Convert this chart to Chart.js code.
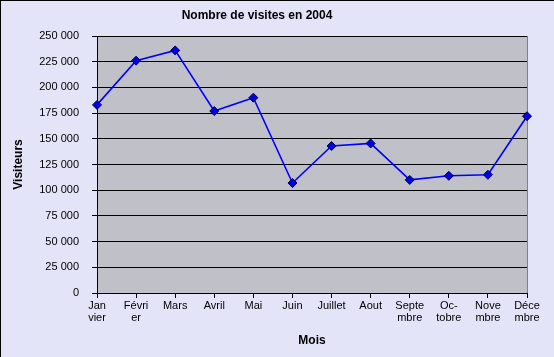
<!DOCTYPE html>
<html>
<head>
<meta charset="utf-8">
<script src="https://cdn.jsdelivr.net/npm/chart.js@4.4.1/dist/chart.umd.min.js"></script>
<style>
  html, body { margin: 0; padding: 0; background: #ffffff; }
  #wrap { position: relative; width: 554px; height: 357px; }
</style>
</head>
<body>
<div id="wrap"><canvas id="c" width="554" height="357"></canvas></div>
<script>
const chartTitle = 'Nombre de visites en 2004';
const xTitle = 'Mois';
const yTitle = 'Visiteurs';
const categories = [['Jan','vier'], ['Févri','er'], 'Mars', 'Avril', 'Mai', 'Juin', 'Juillet', 'Aout', ['Septe','mbre'], ['Oc-','tobre'], ['Nove','mbre'], ['Déce','mbre']];
const visites = [183000, 226000, 236000, 177000, 190000, 107000, 143000, 145500, 110000, 114000, 115000, 172000];
const yMin = 0;
const yMax = 250000;
const yStep = 25000;

const FONT = '"Liberation Sans", Arial, sans-serif';

const bgPlugin = {
  id: 'bg',
  beforeDraw(chart) {
    const ctx = chart.ctx;
    const a = chart.chartArea;
    ctx.save();
    ctx.fillStyle = 'rgb(228,228,248)';
    ctx.fillRect(0, 0, chart.width, chart.height);
    ctx.fillStyle = '#000';
    ctx.fillRect(0, 0, chart.width, 1);
    ctx.fillRect(0, 0, 1, chart.height);
    ctx.fillStyle = 'rgb(192,192,200)';
    ctx.fillRect(a.left, a.top, a.right - a.left, a.bottom - a.top);
    ctx.restore();
  },
  beforeDatasetsDraw(chart) {
    const ctx = chart.ctx;
    const a = chart.chartArea;
    ctx.save();
    ctx.strokeStyle = '#808080';
    ctx.lineWidth = 1;
    ctx.beginPath();
    ctx.moveTo(Math.round(a.right) + 0.5, a.top);
    ctx.lineTo(Math.round(a.right) + 0.5, a.bottom);
    ctx.stroke();
    ctx.restore();
  },
  afterDraw(chart) {
    const ctx = chart.ctx;
    ctx.save();
    ctx.fillStyle = '#000';
    ctx.font = 'bold 12px ' + FONT;
    ctx.textAlign = 'center';
    ctx.textBaseline = 'middle';
    ctx.fillText(chartTitle, 257, 16);
    ctx.restore();
  }
};

new Chart(document.getElementById('c'), {
  type: 'line',
  data: {
    labels: categories,
    datasets: [{
      data: visites,
      borderColor: '#0000FF',
      borderWidth: 1.6,
      backgroundColor: '#0000E0',
      pointStyle: 'rectRot',
      pointRadius: 4.5,
      pointBorderColor: '#000050',
      pointBorderWidth: 1,
      pointBackgroundColor: '#0000E0',
      tension: 0,
      fill: false
    }]
  },
  options: {
    responsive: false,
    animation: false,
    devicePixelRatio: 1,
    layout: { padding: { left: 1, right: 27, top: 36, bottom: 0 } },
    plugins: {
      legend: { display: false },
      tooltip: { enabled: false },
      title: { display: false }
    },
    scales: {
      x: {
        offset: false,
        grid: { drawOnChartArea: false, drawTicks: true, tickLength: 5, color: '#000', lineWidth: 1 },
        border: { display: true, color: '#000', width: 1 },
        ticks: {
          color: '#000', font: { family: FONT, size: 11, lineHeight: 1.1 },
          padding: 2, maxRotation: 0, autoSkip: false
        },
        title: {
          display: true, text: xTitle, color: '#000',
          font: { family: FONT, size: 12, weight: 'bold' },
          padding: { top: 4, bottom: 9 }
        },
        afterFit(scale) { scale.height = 64; }
      },
      y: {
        min: yMin, max: yMax,
        grid: { drawOnChartArea: true, drawTicks: true, tickLength: 5, color: '#000', lineWidth: 1 },
        border: { display: true, color: '#000', width: 1 },
        ticks: {
          stepSize: yStep, color: '#000', font: { family: FONT, size: 11 }, padding: 13,
          callback: v => v === 0 ? '0' : String(v).replace(/\B(?=(\d{3})+(?!\d))/g, ' ')
        },
        title: {
          display: true, text: yTitle, color: '#000',
          font: { family: FONT, size: 12, weight: 'bold' },
          padding: { top: 10, bottom: 0 }
        },
        afterFit(scale) { scale.width = 96; }
      }
    }
  },
  plugins: [bgPlugin]
});
</script>
</body>
</html>
